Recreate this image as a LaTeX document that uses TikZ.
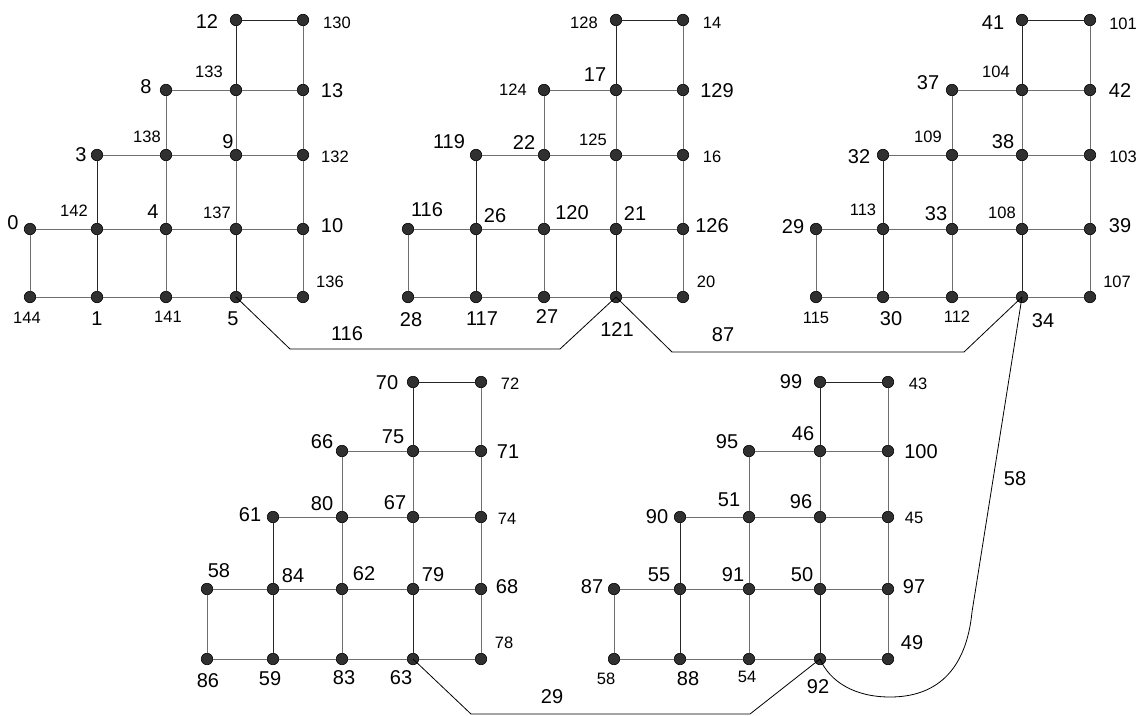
\documentclass[tikz,border=0pt]{standalone}
\usepackage{fontspec}
\setmainfont{Liberation Sans}
\definecolor{dotfill}{HTML}{303030}
\definecolor{gridgray}{HTML}{6E6E6E}
\tikzset{
  dot/.style={circle,draw=black,fill=dotfill,line width=0.6pt,minimum size=11.5pt,inner sep=0pt},
  gl/.style={draw=gridgray,line width=1pt},
  bl/.style={draw=black!85,line width=0.9pt},
  conn/.style={draw=black,line width=0.8pt},
  big/.style={inner sep=0pt,font=\fontsize{20}{20}\selectfont},
  small/.style={inner sep=0pt,font=\fontsize{16.5}{16.5}\selectfont}
}
\begin{document}
\begin{tikzpicture}[x=1pt,y=-1pt]
\useasboundingbox (0,0) rectangle (1140,715);
\fill[white] (0,0) rectangle (1140,715);
% grids
\foreach \g/\xa/\xb/\xc/\xd/\xe/\ya/\yb/\yc/\yd/\ye in {
  A/30/97/166/236/303/20/90/155/229/297,
  B/408/476/544/616/683/20/90/155/229/297,
  C/816/883/952/1022/1090/20/90/155/229/297,
  D/207/273/342/413/481/382/451/517/589/659,
  E/614/680/749/820/888/382/451/517/589/659}{
  \node[dot] (\g03) at (\xd,\ya) {};
  \node[dot] (\g04) at (\xe,\ya) {};
  \node[dot] (\g12) at (\xc,\yb) {};
  \node[dot] (\g13) at (\xd,\yb) {};
  \node[dot] (\g14) at (\xe,\yb) {};
  \node[dot] (\g21) at (\xb,\yc) {};
  \node[dot] (\g22) at (\xc,\yc) {};
  \node[dot] (\g23) at (\xd,\yc) {};
  \node[dot] (\g24) at (\xe,\yc) {};
  \node[dot] (\g30) at (\xa,\yd) {};
  \node[dot] (\g31) at (\xb,\yd) {};
  \node[dot] (\g32) at (\xc,\yd) {};
  \node[dot] (\g33) at (\xd,\yd) {};
  \node[dot] (\g34) at (\xe,\yd) {};
  \node[dot] (\g40) at (\xa,\ye) {};
  \node[dot] (\g41) at (\xb,\ye) {};
  \node[dot] (\g42) at (\xc,\ye) {};
  \node[dot] (\g43) at (\xd,\ye) {};
  \node[dot] (\g44) at (\xe,\ye) {};
  % horizontal
  \draw[bl] (\g03) -- (\g04);
  \draw[gl] (\g12) -- (\g13) (\g13) -- (\g14);
  \draw[gl] (\g21) -- (\g22) (\g22) -- (\g23) (\g23) -- (\g24);
  \draw[gl] (\g30) -- (\g31) (\g31) -- (\g32) (\g32) -- (\g33) (\g33) -- (\g34);
  \draw[gl] (\g40) -- (\g41) (\g41) -- (\g42) (\g42) -- (\g43) (\g43) -- (\g44);
  % vertical
  \draw[gl] (\g30) -- (\g40);
  \draw[bl] (\g21) -- (\g31) (\g31) -- (\g41);
  \draw[gl] (\g12) -- (\g22) (\g22) -- (\g32) (\g32) -- (\g42);
  \draw[bl] (\g03) -- (\g13);
  \draw[gl] (\g13) -- (\g23) (\g23) -- (\g33);
  \draw[bl] (\g33) -- (\g43);
  \draw[gl] (\g04) -- (\g14) (\g14) -- (\g24) (\g24) -- (\g34) (\g34) -- (\g44);
}
% connectors
\coordinate (k1) at (290,349);
\coordinate (k2) at (560,349);
\coordinate (k3) at (672,352);
\coordinate (k4) at (964,352);
\coordinate (k5) at (471,714);
\coordinate (k6) at (750,714);
\coordinate (k7) at (972,612);
\coordinate (k8) at (890,697);
\draw[conn] (A43.center) -- (k1) -- (k2) -- (B43.center);
\draw[conn] (B43.center) -- (k3) -- (k4) -- (C43.center);
\draw[conn] (D43.center) -- (k5) -- (k6) -- (E43.center);
\draw[conn] (C43.center) -- (k7) .. controls (966,672) and (935,697) .. (k8) .. controls (855,697) and (830,682) .. (E43.center);
% edge labels
\node[big] (e116) at (347,334) {116};
\node[big] (e87) at (723,335) {87};
\node[big] (e29) at (552,697) {29};
\node[big] (e58) at (1015,479) {58};
% group A labels
\node[big] (a12) at (207,22) {12};
\node[small] (a130) at (337,23) {130};
\node[small] (a133) at (209,72) {133};
\node[big] (a8) at (146,87) {8};
\node[big] (a13) at (332,91) {13};
\node[small] (a138) at (147,137) {138};
\node[big] (a3) at (81,155) {3};
\node[big] (a9) at (228,142) {9};
\node[small] (a132) at (335,157) {132};
\node[big] (a0) at (13,223) {0};
\node[small] (a142) at (74,211) {142};
\node[big] (a4) at (153,212) {4};
\node[small] (a137) at (217,213) {137};
\node[big] (a10) at (332,226) {10};
\node[small] (a136) at (330,282) {136};
\node[small] (a144) at (27,318) {144};
\node[big] (a1) at (97,319) {1};
\node[small] (a141) at (168,317) {141};
\node[big] (a5) at (233,319) {5};
% group B labels
\node[small] (b128) at (584,23) {128};
\node[small] (b14) at (712,23) {14};
\node[big] (b17) at (595,75) {17};
\node[small] (b124) at (513,90) {124};
\node[big] (b129) at (717,91) {129};
\node[big] (b119) at (449,142) {119};
\node[big] (b22) at (524,143) {22};
\node[small] (b125) at (593,140) {125};
\node[small] (b16) at (712,157) {16};
\node[big] (b116) at (427,210) {116};
\node[big] (b26) at (495,216) {26};
\node[big] (b120) at (572,213) {120};
\node[big] (b21) at (635,214) {21};
\node[big] (b126) at (712,226) {126};
\node[small] (b20) at (706,282) {20};
\node[big] (b28) at (411,320) {28};
\node[big] (b117) at (482,319) {117};
\node[big] (b27) at (547,317) {27};
\node[big] (b121) at (617,330) {121};
% group C labels
\node[big] (c41) at (993,23) {41};
\node[small] (c101) at (1123,24) {101};
\node[small] (c104) at (996,72) {104};
\node[big] (c37) at (928,83) {37};
\node[big] (c42) at (1120,91) {42};
\node[small] (c109) at (928,137) {109};
\node[big] (c38) at (1003,142) {38};
\node[big] (c32) at (859,157) {32};
\node[small] (c103) at (1123,157) {103};
\node[small] (c113) at (863,210) {113};
\node[big] (c33) at (936,214) {33};
\node[small] (c108) at (1002,213) {108};
\node[big] (c29) at (793,227) {29};
\node[big] (c39) at (1120,226) {39};
\node[small] (c107) at (1117,282) {107};
\node[small] (c115) at (816,318) {115};
\node[big] (c30) at (891,319) {30};
\node[small] (c112) at (957,317) {112};
\node[big] (c34) at (1043,321) {34};
% group D labels
\node[big] (d70) at (387,383) {70};
\node[small] (d72) at (510,384) {72};
\node[big] (d75) at (393,437) {75};
\node[big] (d66) at (322,442) {66};
\node[big] (d71) at (508,452) {71};
\node[big] (d80) at (322,504) {80};
\node[big] (d67) at (395,503) {67};
\node[big] (d61) at (250,515) {61};
\node[small] (d74) at (507,519) {74};
\node[big] (d58) at (219,571) {58};
\node[big] (d84) at (293,576) {84};
\node[big] (d62) at (364,574) {62};
\node[big] (d79) at (433,575) {79};
\node[big] (d68) at (507,587) {68};
\node[small] (d78) at (504,643) {78};
\node[big] (d86) at (208,681) {86};
\node[big] (d59) at (270,679) {59};
\node[big] (d83) at (344,678) {83};
\node[big] (d63) at (401,678) {63};
% group E labels
\node[big] (e99) at (791,382) {99};
\node[small] (e43) at (918,384) {43};
\node[big] (e46) at (803,434) {46};
\node[big] (e95) at (727,442) {95};
\node[big] (e100) at (921,452) {100};
\node[big] (e51) at (729,500) {51};
\node[big] (e96) at (801,502) {96};
\node[big] (e90) at (657,517) {90};
\node[small] (e45) at (914,518) {45};
\node[big] (e55) at (659,575) {55};
\node[big] (e91) at (733,575) {91};
\node[big] (e50) at (802,575) {50};
\node[big] (e87n) at (592,587) {87};
\node[big] (e97) at (914,587) {97};
\node[big] (e49) at (912,643) {49};
\node[small] (e58n) at (606,679) {58};
\node[big] (e88) at (688,679) {88};
\node[small] (e54) at (747,677) {54};
\node[big] (e92) at (818,687) {92};
\end{tikzpicture}
\end{document}
